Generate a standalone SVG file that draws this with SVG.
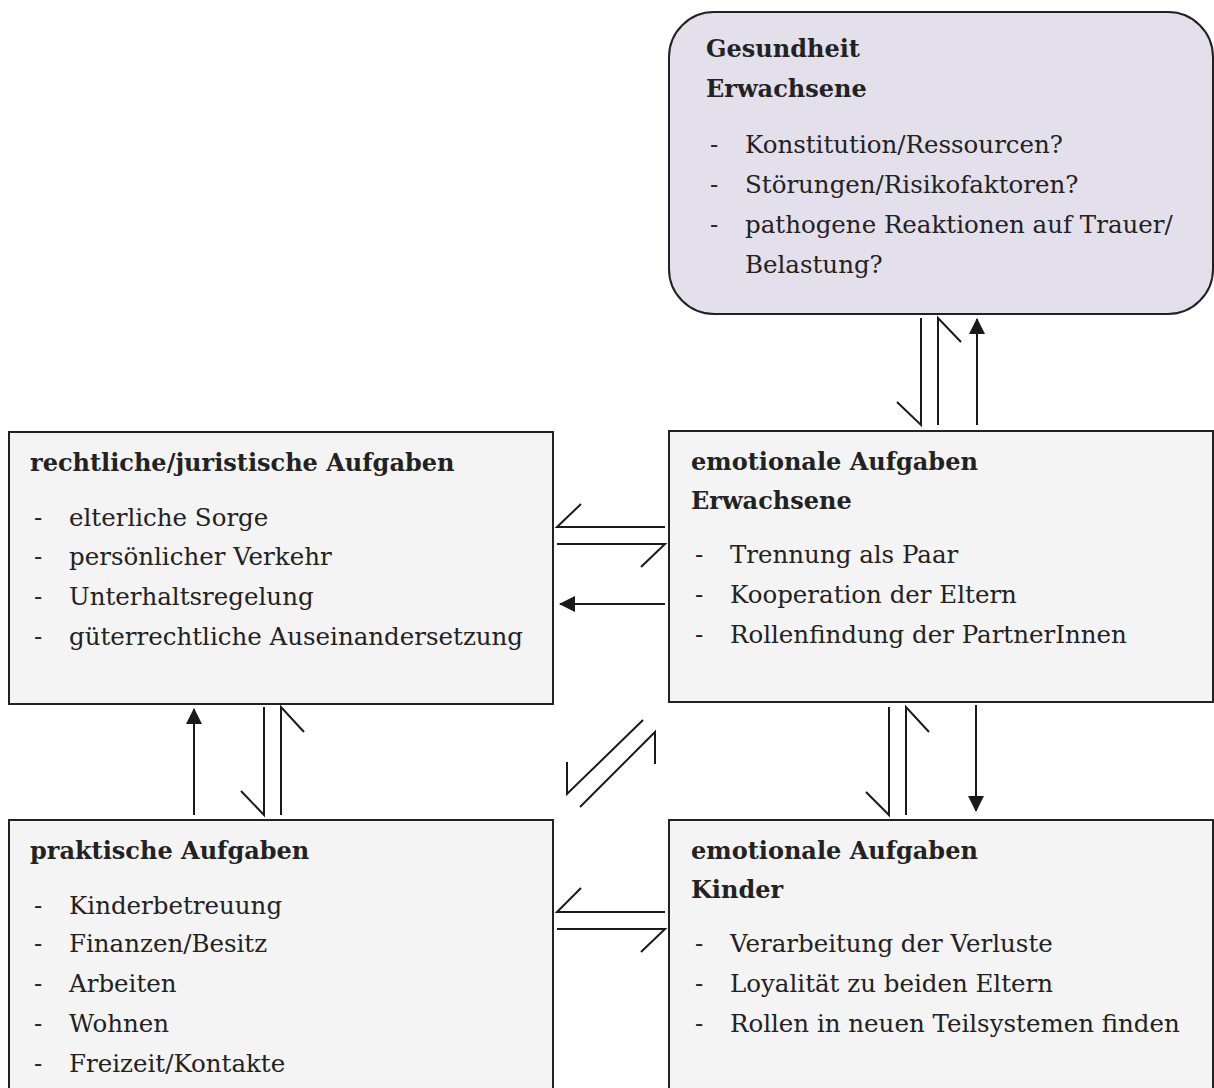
<svg xmlns="http://www.w3.org/2000/svg" width="1214" height="1088" viewBox="0 0 1214 1088">
<defs>
<style>
.box{fill:#f4f4f4;stroke:#222;stroke-width:2}
.health{fill:#e3dfeb;stroke:#222;stroke-width:2}
text{font-family:"DejaVu Serif","Liberation Serif",serif;font-size:24.5px;fill:#222}
.t{font-weight:bold;font-size:24px}
.c{fill:none;stroke:#1a1a1a;stroke-width:2}
</style>
<marker id="ah" viewBox="0 0 10 10" refX="9" refY="5" markerWidth="8" markerHeight="8" markerUnits="userSpaceOnUse" orient="auto">
<path d="M0,0 L10,5 L0,10 z" fill="#1a1a1a"/>
</marker>
<marker id="a" viewBox="0 0 16 16" refX="15" refY="8" markerWidth="16" markerHeight="16" markerUnits="userSpaceOnUse" orient="auto">
<path d="M0,0 L16,8 L0,16 z" fill="#1a1a1a"/>
</marker>
</defs>
<rect width="1214" height="1088" fill="#ffffff"/>

<g id="gesundheit">
<rect class="health" x="669" y="12" width="544" height="302" rx="45" ry="45"/>
<text class="t" x="706" y="57">Gesundheit</text>
<text class="t" x="706" y="97">Erwachsene</text>
<text x="710" y="153">-</text><text x="745" y="153">Konstitution/Ressourcen?</text>
<text x="710" y="193">-</text><text x="745" y="193">Störungen/Risikofaktoren?</text>
<text x="710" y="233">-</text><text x="745" y="233">pathogene Reaktionen auf Trauer/</text>
<text x="745" y="273">Belastung?</text>
</g>

<g id="rechtlich">
<rect class="box" x="9" y="432" width="544" height="272"/>
<text class="t" x="30" y="471">rechtliche/juristische Aufgaben</text>
<text x="34" y="526">-</text><text x="69" y="526">elterliche Sorge</text>
<text x="34" y="565">-</text><text x="69" y="565">persönlicher Verkehr</text>
<text x="34" y="605">-</text><text x="69" y="605">Unterhaltsregelung</text>
<text x="34" y="645">-</text><text x="69" y="645">güterrechtliche Auseinandersetzung</text>
</g>

<g id="emo_erw">
<rect class="box" x="669" y="431" width="544" height="271"/>
<text class="t" x="691" y="470">emotionale Aufgaben</text>
<text class="t" x="691" y="509">Erwachsene</text>
<text x="695" y="563">-</text><text x="730" y="563">Trennung als Paar</text>
<text x="695" y="603">-</text><text x="730" y="603">Kooperation der Eltern</text>
<text x="695" y="643">-</text><text x="730" y="643">Rollenfindung der PartnerInnen</text>
</g>

<g id="praktisch">
<rect class="box" x="9" y="820" width="544" height="280"/>
<text class="t" x="30" y="859">praktische Aufgaben</text>
<text x="34" y="914">-</text><text x="69" y="914">Kinderbetreuung</text>
<text x="34" y="952">-</text><text x="69" y="952">Finanzen/Besitz</text>
<text x="34" y="992">-</text><text x="69" y="992">Arbeiten</text>
<text x="34" y="1032">-</text><text x="69" y="1032">Wohnen</text>
<text x="34" y="1072">-</text><text x="69" y="1072">Freizeit/Kontakte</text>
</g>

<g id="emo_kinder">
<rect class="box" x="669" y="820" width="544" height="280"/>
<text class="t" x="691" y="859">emotionale Aufgaben</text>
<text class="t" x="691" y="898">Kinder</text>
<text x="695" y="952">-</text><text x="730" y="952">Verarbeitung der Verluste</text>
<text x="695" y="992">-</text><text x="730" y="992">Loyalität zu beiden Eltern</text>
<text x="695" y="1032">-</text><text x="730" y="1032">Rollen in neuen Teilsystemen finden</text>
</g>

<g id="connectors">
<!-- Gesundheit <-> emotionale Erwachsene -->
<path class="c" d="M921,318 L921,425 L897,402"/>
<path class="c" d="M938,425 L938,318 L961,342"/>
<line class="c" x1="977" y1="425" x2="977" y2="319" marker-end="url(#a)"/>
<!-- emotionale Erwachsene <-> rechtliche -->
<path class="c" d="M665,527 L557,527 L581,504"/>
<path class="c" d="M557,544 L665,544 L641,567"/>
<line class="c" x1="665" y1="604" x2="560" y2="604" marker-end="url(#a)"/>
<!-- rechtliche <-> praktische -->
<line class="c" x1="194" y1="815" x2="194" y2="709" marker-end="url(#a)"/>
<path class="c" d="M264,707 L264,815 L241,791"/>
<path class="c" d="M281,815 L281,707 L304,732"/>
<!-- diagonal emotionale Erwachsene <-> praktische -->
<path class="c" d="M643,720 L567,794 L567,762"/>
<path class="c" d="M580,807 L655,732 L655,764"/>
<!-- emotionale Erwachsene <-> Kinder -->
<path class="c" d="M889,707 L889,815 L866,792"/>
<path class="c" d="M906,815 L906,707 L929,732"/>
<line class="c" x1="976" y1="705" x2="976" y2="811" marker-end="url(#a)"/>
<!-- praktische <-> Kinder -->
<path class="c" d="M665,912 L557,912 L581,888"/>
<path class="c" d="M557,929 L665,929 L641,952"/>
</g>
</svg>
